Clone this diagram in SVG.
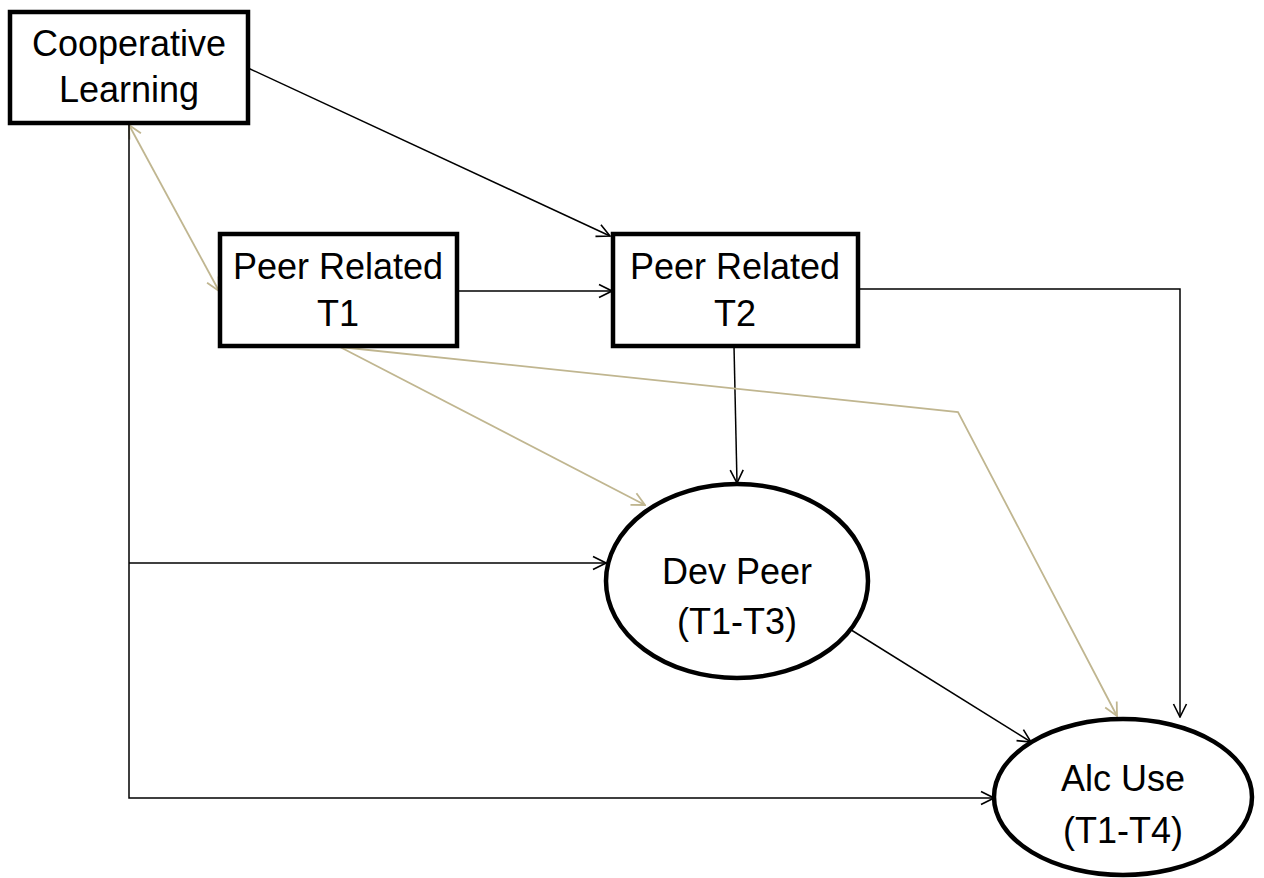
<svg xmlns="http://www.w3.org/2000/svg" width="1264" height="878" viewBox="0 0 1264 878">
<style>
.box{fill:#fff;stroke:#000;stroke-width:4.5}
.lbl{font-family:"Liberation Sans",Arial,sans-serif;font-size:36px;fill:#000;text-anchor:middle}
.c{fill:none;stroke:#000;stroke-width:1.5}
.t{fill:none;stroke:#c0b690;stroke-width:1.8}
</style>
<defs>
<marker id="ab" markerUnits="userSpaceOnUse" viewBox="0 0 16 16" refX="15" refY="8" markerWidth="16" markerHeight="16" orient="auto-start-reverse"><path d="M2,1.5 L15,8 L2,14.5" fill="none" stroke="#000" stroke-width="1.6"/></marker>
<marker id="at" markerUnits="userSpaceOnUse" viewBox="0 0 16 16" refX="15" refY="8" markerWidth="16" markerHeight="16" orient="auto-start-reverse"><path d="M2,1.5 L15,8 L2,14.5" fill="none" stroke="#c0b690" stroke-width="1.8"/></marker>
</defs>
<rect width="1264" height="878" fill="#fff"/>
<g id="connectors">
<path class="c" d="M248,68 L610,236" marker-end="url(#ab)"/>
<path class="t" d="M129,125 L219,291" marker-start="url(#at)" marker-end="url(#at)"/>
<path class="c" d="M129,125 L129,798 L994,798" marker-end="url(#ab)"/>
<path class="c" d="M129,563 L606,563" marker-end="url(#ab)"/>
<path class="c" d="M457,291 L612,291" marker-end="url(#ab)"/>
<path class="c" d="M858,289 L1180,289 L1180,717" marker-end="url(#ab)"/>
<path class="c" d="M734,346 L737,483" marker-end="url(#ab)"/>
<path class="t" d="M340,347 L645,505" marker-end="url(#at)"/>
<path class="t" d="M340,347 L958,412 L1117,716" marker-end="url(#at)"/>
<path class="c" d="M832,618 L1031,742" marker-end="url(#ab)"/>
</g>
<g id="cooperative-learning">
<rect class="box" x="10" y="12" width="238" height="111"/>
<text class="lbl" x="129" y="56">Cooperative</text>
<text class="lbl" x="129" y="102">Learning</text>
</g>
<g id="peer-related-t1">
<rect class="box" x="220" y="234" width="237" height="112"/>
<text class="lbl" x="338" y="279">Peer Related</text>
<text class="lbl" x="338" y="326">T1</text>
</g>
<g id="peer-related-t2">
<rect class="box" x="613" y="234" width="245" height="112"/>
<text class="lbl" x="735" y="279">Peer Related</text>
<text class="lbl" x="735" y="326">T2</text>
</g>
<g id="dev-peer">
<ellipse class="box" cx="737" cy="581" rx="131" ry="97"/>
<text class="lbl" x="737" y="584">Dev Peer</text>
<text class="lbl" x="737" y="634">(T1-T3)</text>
</g>
<g id="alc-use">
<ellipse class="box" cx="1123" cy="797" rx="129" ry="78"/>
<text class="lbl" x="1123" y="791">Alc Use</text>
<text class="lbl" x="1123" y="843">(T1-T4)</text>
</g>
</svg>
